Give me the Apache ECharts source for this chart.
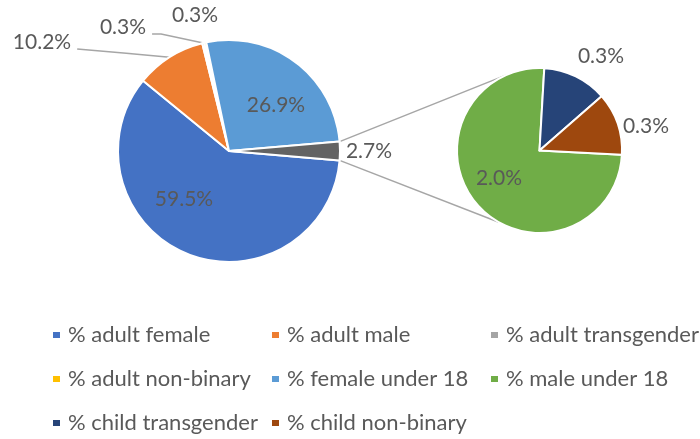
<!DOCTYPE html>
<html>
<head>
<meta charset="utf-8">
<script src="https://cdn.jsdelivr.net/npm/echarts@6/dist/echarts.min.js"></script>
<style>
  html, body { margin: 0; padding: 0; background: #fff; }
  #chart { width: 700px; height: 439px; }
</style>
</head>
<body>
<div id="chart"></div>
<script>
  // main pie (the last slice is the "other" slice that is split out on the right)
  const mainNames = ["% adult female", "% adult male", "% adult transgender", "% adult non-binary", "% female under 18"];
  const mainValues = [59.5, 10.2, 0.3, 0.3, 26.9];
  const mainColors = ["#4472C4", "#ED7D31", "#A5A5A5", "#FFC000", "#5B9BD5"];
  const otherName = "other";
  const otherColor = "#636363";

  // secondary pie
  const subNames = ["% male under 18", "% child transgender", "% child non-binary"];
  const subValues = [2.02, 0.34, 0.33];
  const subColors = ["#70AD47", "#264478", "#9E480E"];

  // legend columns
  const legendCols = [
    ["% adult female", "% adult non-binary", "% child transgender"],
    ["% adult male", "% female under 18", "% child non-binary"],
    ["% adult transgender", "% male under 18"]
  ];

  const mainCenter = [229, 151], mainR = 111;
  const subCenter = [539.5, 150.5], subR = 82.5;
  const font = "Lato, 'Open Sans', sans-serif";
  const textColor = "#595959";

  // label positions (centre of text)
  const mainLabelPos = [[184, 199], [42, 42], [123, 27], [195, 15], [276, 105], [369, 151]];
  const mainLabelLine = [false, true, true, false, false, false];
  const subLabelPos = [[499, 178], [601, 56], [646, 126]];

  const otherValue = subValues.reduce((a, b) => a + b, 0);
  const total = mainValues.reduce((a, b) => a + b, 0) + otherValue;
  const half = otherValue / total * 180;

  const mainData = mainNames.map((n, i) => ({
    name: n, value: mainValues[i],
    itemStyle: { color: mainColors[i] },
    labelLine: { show: mainLabelLine[i] }
  }));
  mainData.push({ name: otherName, value: otherValue, itemStyle: { color: otherColor }, labelLine: { show: false } });

  const subData = subNames.map((n, i) => ({
    name: n, value: subValues[i],
    itemStyle: { color: subColors[i] },
    labelLine: { show: false }
  }));

  const rad = d => d * Math.PI / 180;
  const pt = (c, r, a) => [c[0] + r * Math.cos(rad(a)), c[1] - r * Math.sin(rad(a))];
  const p1 = pt(mainCenter, mainR, half), p2 = pt(mainCenter, mainR, -half);
  const q1 = pt(subCenter, subR, 114), q2 = pt(subCenter, subR, -120);

  const labelStyle = {
    show: true, position: "outside", color: textColor,
    fontFamily: font, fontSize: 21,
    formatter: p => p.value.toFixed(1) + "%"
  };

  const legends = legendCols.map((col, i) => ({
    data: col,
    orient: "vertical",
    left: 51 + i * 219,
    top: 323,
    height: 160,
    padding: 0,
    itemWidth: 9,
    itemHeight: 8,
    itemGap: 20,
    icon: "rect",
    selectedMode: false,
    textStyle: { color: textColor, fontFamily: font, fontSize: 22, lineHeight: 24, padding: [0, 0, 0, 2] }
  }));

  const options = {
    animation: false,
    legend: legends,
    graphic: [
      { type: "line", z: 0, shape: { x1: p1[0], y1: p1[1], x2: q1[0], y2: q1[1] }, style: { stroke: "#A6A6A6", lineWidth: 1.5 } },
      { type: "line", z: 0, shape: { x1: p2[0], y1: p2[1], x2: q2[0], y2: q2[1] }, style: { stroke: "#A6A6A6", lineWidth: 1.5 } }
    ],
    series: [
      {
        name: "main",
        type: "pie",
        center: mainCenter,
        radius: mainR,
        startAngle: -half,
        clockwise: true,
        avoidLabelOverlap: false,
        itemStyle: { borderColor: "#fff", borderWidth: 2 },
        label: labelStyle,
        labelLine: { length: 4, length2: 60, lineStyle: { color: "#A6A6A6", width: 1.5 } },
        labelLayout: p => {
          const pos = mainLabelPos[p.dataIndex];
          const out = { x: pos[0], y: pos[1], align: "center", verticalAlign: "middle" };
          if (mainLabelLine[p.dataIndex] && p.labelLinePoints) {
            const start = p.labelLinePoints[0];
            const end = [pos[0] + p.labelRect.width / 2 + 6, pos[1] + 7];
            const mid = p.dataIndex === 2 ? [end[0] + 9, end[1]] : [(start[0] + end[0]) / 2, (start[1] + end[1]) / 2];
            out.labelLinePoints = [start, mid, end];
          }
          return out;
        },
        emphasis: { disabled: true },
        data: mainData
      },
      {
        name: "sub",
        type: "pie",
        center: subCenter,
        radius: subR,
        startAngle: -3,
        clockwise: true,
        avoidLabelOverlap: false,
        itemStyle: { borderColor: "#fff", borderWidth: 2 },
        label: labelStyle,
        labelLayout: p => {
          const pos = subLabelPos[p.dataIndex];
          return { x: pos[0], y: pos[1], align: "center", verticalAlign: "middle" };
        },
        emphasis: { disabled: true },
        data: subData
      }
    ]
  };

  const myChart = echarts.init(document.getElementById("chart"));
  myChart.setOption(options);
  window.addEventListener("resize", () => myChart.resize(), false);
</script>
</body>
</html>
